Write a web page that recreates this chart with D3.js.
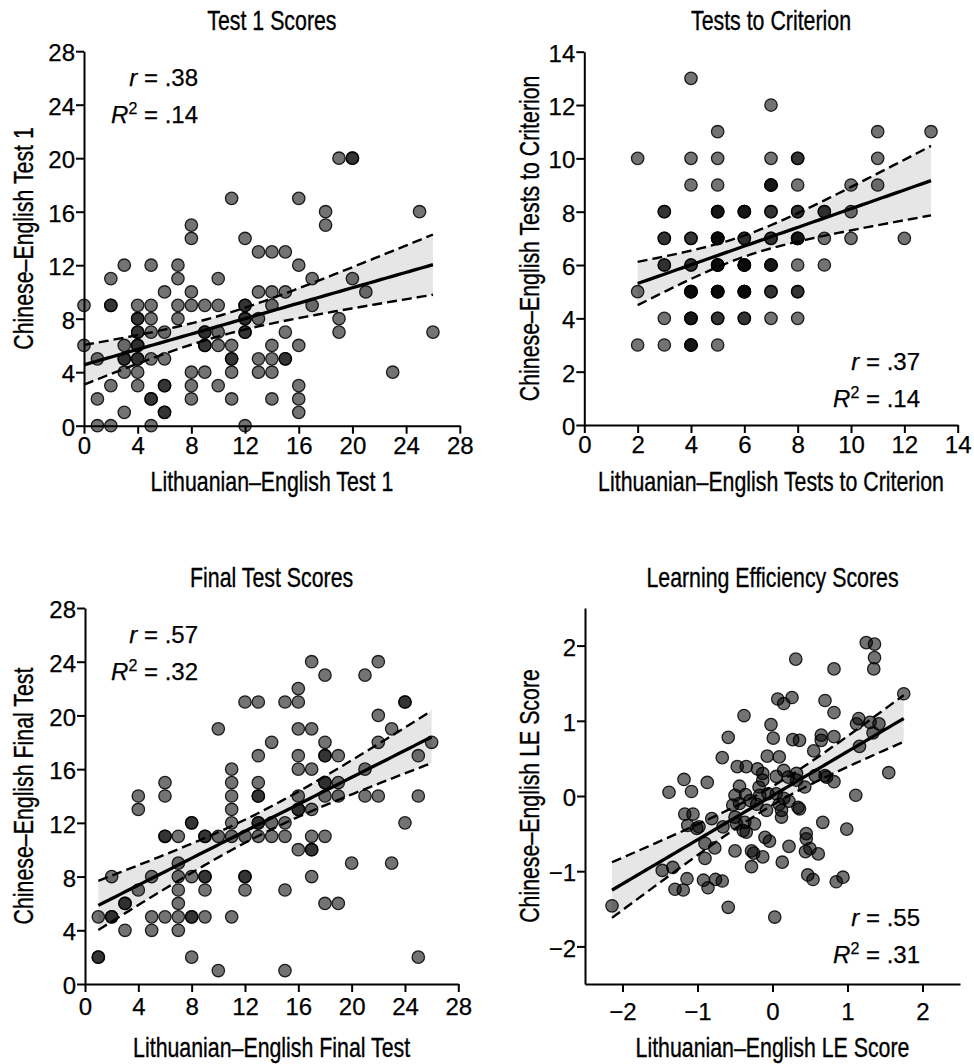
<!DOCTYPE html>
<html><head><meta charset="utf-8">
<script src="https://cdn.jsdelivr.net/npm/d3@7"></script>
<style>body{margin:0;background:#fff} svg{display:block}</style>
</head><body><svg id="c" width="974" height="1064"></svg>
<script>
// ---------- DATA ----------
const titles = ["Test 1 Scores", "Tests to Criterion", "Final Test Scores", "Learning Efficiency Scores"];
const xLabels = ["Lithuanian\u2013English Test 1", "Lithuanian\u2013English Tests to Criterion", "Lithuanian\u2013English Final Test", "Lithuanian\u2013English LE Score"];
const yLabels = ["Chinese\u2013English Test 1", "Chinese\u2013English Tests to Criterion", "Chinese\u2013English Final Test", "Chinese\u2013English LE Score"];
const rLabels = [".38", ".37", ".57", ".55"];
const r2Labels = [".14", ".14", ".32", ".31"];

const scoreTicks = [0, 4, 8, 12, 16, 20, 24, 28];
const ttcTicks = [0, 2, 4, 6, 8, 10, 12, 14];
const leTicks = [-2, -1, 0, 1, 2];

// Test 1 scores [LE x, CE y]
const test1Points = [
 [0,9],[0,6],
 [1,5],[1,2],[1,0],
 [2,11],[2,9],[2,9],[2,3],[2,0],
 [3,12],[3,6],[3,5],[3,5],[3,4],[3,1],
 [4,9],[4,8],[4,8],[4,7],[4,7],[4,6],[4,6],[4,5],[4,5],[4,4],[4,3],
 [5,12],[5,9],[5,8],[5,7],[5,5],[5,2],[5,2],[5,0],
 [6,10],[6,7],[6,5],[6,3],[6,3],[6,1],[6,1],
 [7,12],[7,11],[7,9],[7,8],
 [8,15],[8,14],[8,10],[8,9],[8,4],[8,3],[8,2],
 [9,9],[9,7],[9,7],[9,6],[9,6],[9,4],
 [10,11],[10,9],[10,7],[10,6],[10,3],
 [11,17],[11,6],[11,5],[11,5],[11,4],[11,2],
 [12,14],[12,9],[12,9],[12,8],[12,8],[12,7],[12,7],[12,0],
 [13,13],[13,10],[13,8],[13,5],[13,4],
 [14,13],[14,10],[14,9],[14,6],[14,5],[14,4],[14,2],
 [15,13],[15,10],[15,7],[15,5],[15,5],
 [16,17],[16,12],[16,6],[16,3],[16,2],[16,1],
 [17,11],[17,9],
 [18,16],[18,15],
 [19,20],[19,8],[19,7],
 [20,20],[20,20],[20,11],
 [21,10],[23,4],[25,16],[26,7]
];

// Tests to criterion [x, y, number of participants at that spot]
const ttcCounts = [
 [2,10,1],[2,5,1],[2,3,1],
 [3,8,2],[3,7,2],[3,6,2],[3,4,1],[3,3,1],
 [4,13,1],[4,10,1],[4,9,1],[4,7,2],[4,6,2],[4,5,4],[4,4,3],[4,3,3],
 [5,11,1],[5,10,1],[5,9,1],[5,8,3],[5,7,4],[5,6,4],[5,5,4],[5,4,2],[5,3,1],
 [6,8,3],[6,7,2],[6,6,4],[6,5,4],[6,4,2],
 [7,12,1],[7,10,1],[7,9,3],[7,8,2],[7,7,2],[7,6,3],[7,5,2],[7,4,1],
 [8,10,2],[8,9,1],[8,8,2],[8,7,3],[8,6,1],[8,5,2],[8,4,1],
 [9,8,2],[9,7,1],[9,6,1],
 [10,9,1],[10,8,1],[10,7,1],
 [11,11,1],[11,10,1],[11,9,1],
 [12,7,1],[13,11,1]
];

// Final test scores: [x, [y values]]
const finalColumns = [
 [1,[5,2,2]],[2,[8,5,5]],[3,[6,6,4]],[4,[14,13,7]],[5,[8,5,4]],
 [6,[15,14,11,11,5]],[7,[11,9,8,7,6,5,4]],[8,[12,12,8,5,5,2]],
 [9,[11,11,8,8,7,5]],[10,[19,11,1]],[11,[16,15,14,13,12,11,5]],
 [12,[21,11,8,8,7]],[13,[21,17,15,14,14,12,12,11]],[14,[18,12,11]],
 [15,[21,12,11,7,1]],[16,[22,21,19,17,16,14,13,13,10]],
 [17,[24,19,16,13,11,10,10,8]],[18,[23,18,17,17,15,15,14,11,6]],
 [19,[17,15,14,6]],[20,[9]],[21,[23,16,14]],[22,[24,20,18,14]],
 [23,[19,9]],[24,[21,21,12]],[25,[17,14,2]],[26,[18]]
];

// Learning efficiency scores [x, y]
const lePoints = [
 [1.25,2.04],[1.36,2.02],[1.36,1.84],[1.35,1.69],[0.31,1.82],[0.82,1.69],[1.75,1.36],
 [0.07,1.29],[0.15,1.23],[0.26,1.31],[0.70,1.27],[0.82,1.11],[-0.38,1.07],[-0.02,0.95],
 [0.01,0.77],[-0.59,0.78],[0.27,0.75],[0.36,0.74],[0.65,0.81],[0.65,0.74],[0.82,0.79],
 [1.15,1.03],[1.12,0.96],[1.30,0.98],[1.42,0.96],[1.34,0.84],[1.16,0.66],[0.55,0.60],
 [-0.67,0.51],[-0.07,0.53],[0.09,0.52],[-0.47,0.39],[-0.35,0.39],[-0.20,0.36],[-0.13,0.30],
 [0.15,0.34],[0.05,0.26],[0.21,0.25],[0.32,0.30],[0.32,0.21],[-0.13,0.21],[0.57,0.27],
 [0.70,0.27],[0.72,0.25],[0.82,0.19],[1.55,0.31],[-1.18,0.22],[-0.87,0.18],[-1.38,0.05],
 [-1.08,0.06],[-0.44,0.13],[-0.18,0.12],[0.43,0.12],[1.11,0.01],[-0.50,0.01],[-0.36,0.02],
 [0.05,0.03],
 [-0.17,0.01],[-0.06,0.03],[0.15,-0.03],[0.22,-0.07],[0.34,-0.15],[0.36,-0.17],
 [-0.53,-0.12],[-0.44,-0.10],[-0.30,-0.06],[-0.21,-0.11],[-0.08,-0.19],[0.12,-0.19],[0.12,-0.28],[0.09,-0.11],
 [-1.17,-0.24],[-1.06,-0.24],[-0.81,-0.30],[-1.13,-0.39],[-1.01,-0.43],[-0.98,-0.41],[-0.66,-0.41],
 [-0.50,-0.28],[-0.48,-0.37],[-0.37,-0.35],[-0.39,-0.46],[-0.24,-0.37],[-0.35,-0.48],
 [0.67,-0.35],[0.99,-0.44],[0.45,-0.50],[0.45,-0.57],[-0.10,-0.55],[-0.04,-0.60],[0.22,-0.67],
 [-0.90,-0.63],[-0.77,-0.69],[-0.50,-0.73],[-0.28,-0.73],[-0.25,-0.76],[-0.13,-0.81],
 [0.44,-0.74],[0.50,-0.70],[0.61,-0.77],[-0.90,-0.83],[0.13,-0.88],[-0.28,-0.94],
 [-1.47,-0.99],[-1.33,-0.95],[-1.14,-1.10],[-0.92,-1.12],[-0.76,-1.11],[-0.67,-1.13],
 [-0.86,-1.22],[-1.30,-1.24],[-1.19,-1.25],
 [0.47,-1.05],[0.54,-1.11],[0.94,-1.08],[0.85,-1.14],
 [-2.14,-1.46],[-0.59,-1.48],[0.03,-1.61]
];

// ---------- BUILD ----------
const ttcPoints = [];
ttcCounts.forEach(([x, y, c]) => { for (let i = 0; i < c; i++) ttcPoints.push([x, y]); });
const finalPoints = [];
finalColumns.forEach(([x, ys]) => ys.forEach(y => finalPoints.push([x, y])));

const FONT = "'Liberation Sans', Arial, Helvetica, sans-serif";
const svg = d3.select("#c");

const panels = [
 { points: test1Points, dom: [0, 28], ticks: scoreTicks, x0: 84, x1: 459.8, y0: 51.2, y1: 425.7,
   titleY: 30, xTickPad: 3, xLabelY: 490.7, yLabelX: 33, annX: 198, annY: 86 },
 { points: ttcPoints, dom: [0, 14], ticks: ttcTicks, x0: 584.3, x1: 957.7, y0: 51.7, y1: 425,
   titleY: 30, xTickPad: 3, xLabelY: 490.7, yLabelX: 539, annX: 920, annY: 370 },
 { points: finalPoints, dom: [0, 28], ticks: scoreTicks, x0: 85, x1: 458.3, y0: 608, y1: 984,
   titleY: 586.5, xTickPad: 6, xLabelY: 1056.5, yLabelX: 33, annX: 198, annY: 643 },
 { points: lePoints, dom: [-2.5, 2.5], ticks: leTicks, x0: 585, x1: 960, y0: 608, y1: 984,
   titleY: 586.5, xTickPad: 11, xLabelY: 1056.5, yLabelX: 539, annX: 920, annY: 926 }
];

function fit(pts) {
  const n = pts.length;
  const mx = d3.mean(pts, d => d[0]), my = d3.mean(pts, d => d[1]);
  let sxx = 0, sxy = 0;
  pts.forEach(([x, y]) => { sxx += (x - mx) ** 2; sxy += (x - mx) * (y - my); });
  const b = sxy / sxx, a = my - b * mx;
  let sse = 0;
  pts.forEach(([x, y]) => { sse += (y - a - b * x) ** 2; });
  const s = Math.sqrt(sse / (n - 2));
  const t = 1.98;
  return { a, b, ci: x => t * s * Math.sqrt(1 / n + (x - mx) ** 2 / sxx) };
}

function condensedText(g, txt, x, y, rot) {
  return g.append("text")
    .attr("transform", `translate(${x},${y})` + (rot ? " rotate(-90)" : "") + " scale(0.79,1)")
    .attr("text-anchor", "middle")
    .attr("font-family", FONT).attr("font-size", 27).attr("fill", "#000")
    .attr("stroke", "#000").attr("stroke-width", 0.35)
    .text(txt);
}

panels.forEach((p, i) => {
  const g = svg.append("g");
  const x = d3.scaleLinear().domain(p.dom).range([p.x0, p.x1]);
  const y = d3.scaleLinear().domain(p.dom).range([p.y1, p.y0]);
  const f = fit(p.points);
  const [xmin, xmax] = d3.extent(p.points, d => d[0]);
  const xs = d3.range(0, 61).map(k => xmin + (xmax - xmin) * k / 60);
  const yhat = v => f.a + f.b * v;

  // confidence band
  g.append("path")
    .datum(xs)
    .attr("fill", "#e6e6e6")
    .attr("d", d3.area().x(v => x(v)).y0(v => y(yhat(v) - f.ci(v))).y1(v => y(yhat(v) + f.ci(v))));

  // regression + CI lines
  g.append("path").datum(xs).attr("fill", "none").attr("stroke", "#000").attr("stroke-width", 3.3)
    .attr("d", d3.line().x(v => x(v)).y(v => y(yhat(v))));
  [-1, 1].forEach(sg => {
    g.append("path").datum(xs).attr("fill", "none").attr("stroke", "#000").attr("stroke-width", 2.4)
      .attr("stroke-dasharray", "10,5")
      .attr("d", d3.line().x(v => x(v)).y(v => y(yhat(v) + sg * f.ci(v))));
  });

  // points
  g.append("g").selectAll("circle").data(p.points).join("circle")
    .attr("cx", d => x(d[0])).attr("cy", d => y(d[1])).attr("r", 6.2)
    .attr("fill", "#000").attr("fill-opacity", 0.55)
    .attr("stroke", "#000").attr("stroke-opacity", 0.85).attr("stroke-width", 1.3);

  // axes
  const fmt = d3.format("d");
  const ax = g.append("g").attr("transform", `translate(0,${p.y1})`)
    .call(d3.axisBottom(x).tickValues(p.ticks).tickFormat(fmt).tickSize(8).tickSizeOuter(0).tickPadding(p.xTickPad));
  const ay = g.append("g").attr("transform", `translate(${p.x0},0)`)
    .call(d3.axisLeft(y).tickValues(p.ticks).tickFormat(fmt).tickSize(8).tickSizeOuter(0).tickPadding(1));
  [ax, ay].forEach(a => {
    a.select(".domain").attr("stroke", "#000").attr("stroke-width", 2);
    a.selectAll(".tick line").attr("stroke", "#000").attr("stroke-width", 2);
    a.selectAll(".tick text").attr("font-family", FONT).attr("font-size", 24).attr("fill", "#000")
      .attr("stroke", "#000").attr("stroke-width", 0.25);
  });
  ay.selectAll(".tick text").attr("dy", "0.4em");

  // titles & labels
  condensedText(g, titles[i], (p.x0 + p.x1) / 2, p.titleY, false);
  condensedText(g, xLabels[i], (p.x0 + p.x1) / 2, p.xLabelY, false);
  condensedText(g, yLabels[i], p.yLabelX, (p.y0 + p.y1) / 2, true);

  // annotation
  const t1 = g.append("text").attr("x", p.annX).attr("y", p.annY).attr("text-anchor", "end")
    .attr("font-family", FONT).attr("font-size", 24).attr("fill", "#000")
    .attr("stroke", "#000").attr("stroke-width", 0.25);
  t1.append("tspan").attr("font-style", "italic").text("r");
  t1.append("tspan").text(" = " + rLabels[i]);
  const t2 = g.append("text").attr("x", p.annX).attr("y", p.annY + 36.7).attr("text-anchor", "end")
    .attr("font-family", FONT).attr("font-size", 24).attr("fill", "#000")
    .attr("stroke", "#000").attr("stroke-width", 0.25);
  t2.append("tspan").attr("font-style", "italic").text("R");
  t2.append("tspan").attr("font-size", 16).attr("dy", -9).text("2");
  t2.append("tspan").attr("dy", 9).text(" = " + r2Labels[i]);
});
</script></body></html>
